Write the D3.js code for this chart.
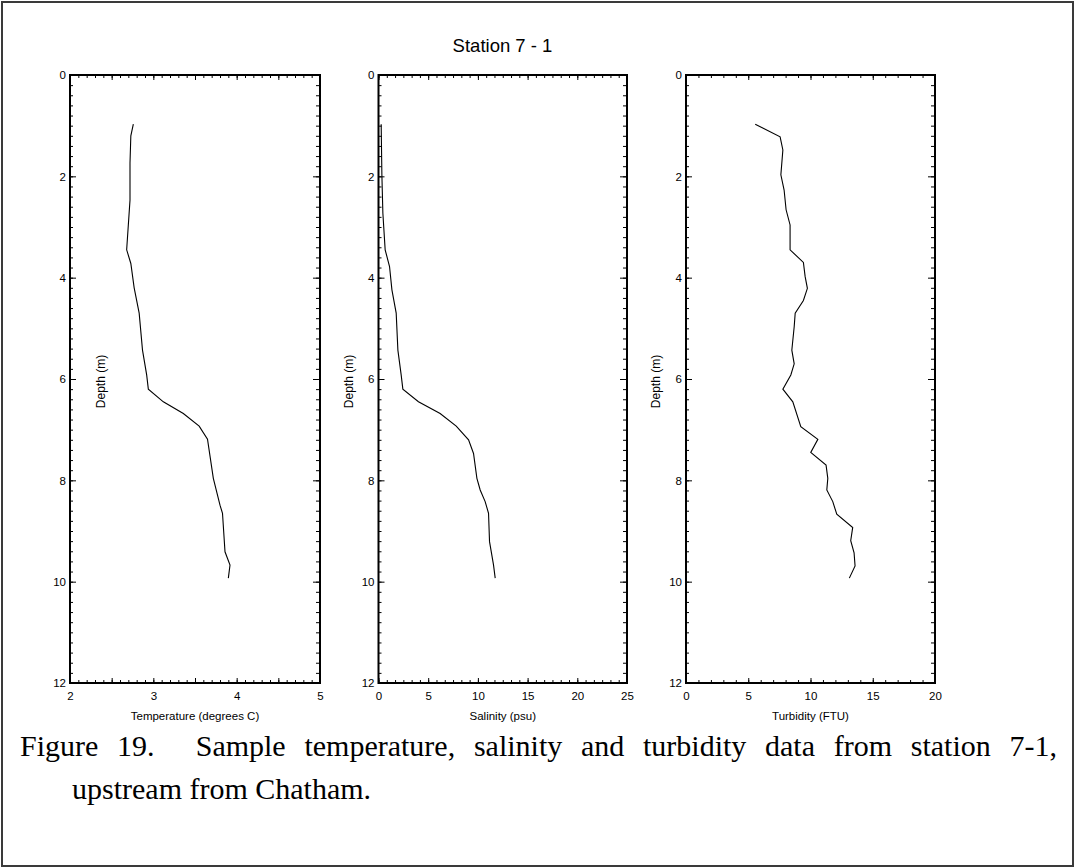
<!DOCTYPE html>
<html>
<head>
<meta charset="utf-8">
<script src="https://cdn.jsdelivr.net/npm/d3@7"></script>
<style>
  html, body { margin: 0; padding: 0; background: #fff; }
  svg { display: block; }
</style>
</head>
<body>
<svg id="chart" width="1075" height="868"></svg>
<script>
// ---------------- data ----------------
const chartTitle = "Station 7 - 1";
const depthLabel = "Depth (m)";
const depthTicks = [0, 2, 4, 6, 8, 10, 12];

const tempDepth = [0.97, 1.2, 1.74, 2.47, 3.45, 3.72, 4.2, 4.7, 5.43, 5.92, 6.2, 6.45, 6.68, 6.93, 7.19, 7.96, 8.49, 8.65, 9.41, 9.67, 9.93];
const tempValues = [2.76, 2.73, 2.72, 2.72, 2.68, 2.73, 2.77, 2.83, 2.87, 2.92, 2.94, 3.12, 3.36, 3.55, 3.65, 3.72, 3.8, 3.83, 3.86, 3.92, 3.9];
const tempTicks = [2, 3, 4, 5];

const salDepth = [0.97, 1.97, 2.73, 3.45, 3.78, 4.24, 4.7, 5.43, 5.92, 6.2, 6.45, 6.68, 6.93, 7.2, 7.47, 7.96, 8.19, 8.42, 8.65, 9.21, 9.67, 9.93];
const salValues = [0.27, 0.34, 0.44, 0.67, 1.11, 1.35, 1.78, 1.95, 2.28, 2.45, 4.02, 6.2, 7.82, 9.06, 9.56, 9.9, 10.23, 10.73, 11.07, 11.17, 11.57, 11.74];
const salTicks = [0, 5, 10, 15, 20, 25];

const turbDepth = [0.97, 1.22, 1.48, 1.97, 2.27, 2.66, 2.96, 3.45, 3.7, 3.98, 4.21, 4.45, 4.7, 4.97, 5.43, 5.7, 5.92, 6.2, 6.45, 6.94, 7.19, 7.45, 7.7, 7.96, 8.19, 8.42, 8.67, 8.93, 9.19, 9.43, 9.69, 9.93];
const turbValues = [5.56, 7.56, 7.78, 7.62, 7.88, 8.04, 8.36, 8.36, 9.43, 9.57, 9.75, 9.43, 8.77, 8.69, 8.5, 8.69, 8.42, 7.78, 8.58, 9.22, 10.59, 10.02, 11.25, 11.39, 11.31, 11.79, 12.11, 13.39, 13.23, 13.5, 13.58, 13.12];
const turbTicks = [0, 5, 10, 15, 20];

const axisTitles = ["Temperature (degrees C)", "Salinity (psu)", "Turbidity (FTU)"];
const captionWords1 = ["Figure", "19.", "Sample", "temperature,", "salinity", "and", "turbidity", "data", "from", "station", "7-1,"];
const captionLine2 = "upstream from Chatham.";

// ---------------- layout ----------------
const svg = d3.select("#chart");
const sans = "'Liberation Sans', Arial, sans-serif";
const serif = "'Liberation Serif', 'Times New Roman', serif";
const yTop = 75, yBot = 683;

const panels = [
  { x0: 70,    x1: 320, domain: [2, 5],  minorN: 30, majorN: 6, ticks: tempTicks, depth: tempDepth, vals: tempValues, title: axisTitles[0], depthX: 105 },
  { x0: 378.5, x1: 627, domain: [0, 25], minorN: 30, majorN: 5, ticks: salTicks,  depth: salDepth,  vals: salValues,  title: axisTitles[1], depthX: 353 },
  { x0: 686,   x1: 935, domain: [0, 20], minorN: 20, majorN: 4, ticks: turbTicks, depth: turbDepth, vals: turbValues, title: axisTitles[2], depthX: 660 }
];

// outer frame
svg.append("rect")
  .attr("x", 2).attr("y", 2).attr("width", 1071).attr("height", 864)
  .attr("fill", "none").attr("stroke", "#3a3a3a").attr("stroke-width", 2);

// title
svg.append("text")
  .attr("x", (panels[0].x0 + panels[2].x1) / 2).attr("y", 52)
  .attr("text-anchor", "middle")
  .attr("font-family", sans).attr("font-size", 18.5)
  .text(chartTitle);

const y = d3.scaleLinear().domain([0, 12]).range([yTop, yBot]);
const depthMinor = d3.range(61).map(i => i * 0.2);

function strip(g) { g.select(".domain").remove(); g.selectAll("line").attr("stroke", "#000"); }

panels.forEach(p => {
  const x = d3.scaleLinear().domain(p.domain).range([p.x0, p.x1]);
  const span = p.domain[1] - p.domain[0];
  const minorVals = d3.range(p.minorN + 1).map(i => p.domain[0] + i * span / p.minorN);
  const majorVals = d3.range(p.majorN + 1).map(i => p.domain[0] + i * span / p.majorN);
  const g = svg.append("g");

  // bottom axis ticks (inward)
  g.append("g").attr("transform", `translate(0,${yBot})`)
    .call(d3.axisBottom(x).tickValues(minorVals).tickSize(-3).tickFormat("")).call(strip);
  g.append("g").attr("transform", `translate(0,${yBot})`)
    .call(d3.axisBottom(x).tickValues(majorVals).tickSize(-5).tickFormat("")).call(strip);
  g.append("g").attr("transform", `translate(0,${yBot})`)
    .call(d3.axisBottom(x).tickValues(p.ticks).tickSize(0).tickPadding(8.5).tickFormat(d3.format("d")))
    .call(strip)
    .call(a => a.selectAll("text").attr("font-family", sans).attr("font-size", 11.5).attr("fill", "#000"));

  // top axis ticks (inward)
  g.append("g").attr("transform", `translate(0,${yTop})`)
    .call(d3.axisTop(x).tickValues(minorVals).tickSize(-3).tickFormat("")).call(strip);
  g.append("g").attr("transform", `translate(0,${yTop})`)
    .call(d3.axisTop(x).tickValues(majorVals).tickSize(-5).tickFormat("")).call(strip);

  // left axis
  g.append("g").attr("transform", `translate(${p.x0},0)`)
    .call(d3.axisLeft(y).tickValues(depthMinor).tickSize(-3).tickFormat("")).call(strip);
  g.append("g").attr("transform", `translate(${p.x0},0)`)
    .call(d3.axisLeft(y).tickValues(depthTicks).tickSize(-6).tickFormat("")).call(strip);
  g.append("g").attr("transform", `translate(${p.x0},0)`)
    .call(d3.axisLeft(y).tickValues(depthTicks).tickSize(0).tickPadding(4).tickFormat(d3.format("d")))
    .call(strip)
    .call(a => a.selectAll("text").attr("font-family", sans).attr("font-size", 11.5).attr("fill", "#000"));

  // right axis
  g.append("g").attr("transform", `translate(${p.x1},0)`)
    .call(d3.axisRight(y).tickValues(depthMinor).tickSize(-4).tickFormat("")).call(strip);
  g.append("g").attr("transform", `translate(${p.x1},0)`)
    .call(d3.axisRight(y).tickValues(depthTicks).tickSize(-7).tickFormat("")).call(strip);

  // frame
  g.append("rect")
    .attr("x", p.x0).attr("y", yTop).attr("width", p.x1 - p.x0).attr("height", yBot - yTop)
    .attr("fill", "none").attr("stroke", "#000").attr("stroke-width", 2);

  // profile line
  const pts = p.depth.map((d, i) => ({ d, v: p.vals[i] }));
  g.append("path").datum(pts)
    .attr("fill", "none").attr("stroke", "#000").attr("stroke-width", 1.1)
    .attr("d", d3.line().x(d => x(d.v)).y(d => y(d.d)));

  // axis title
  g.append("text")
    .attr("x", (p.x0 + p.x1) / 2).attr("y", 720)
    .attr("text-anchor", "middle")
    .attr("font-family", sans).attr("font-size", 11.5)
    .text(p.title);

  // depth label
  g.append("text")
    .attr("transform", `translate(${p.depthX},381.5) rotate(-90)`)
    .attr("text-anchor", "middle")
    .attr("font-family", sans).attr("font-size", 12)
    .text(depthLabel);
});

// caption line 1: justified between x=20 and x=1057, larger gap after "19."
const capSize = 30;
const capG = svg.append("g").attr("font-family", serif).attr("font-size", capSize);
const wordNodes = captionWords1.map(w => capG.append("text").attr("y", 756).text(w));
const widths = wordNodes.map(t => t.node().getComputedTextLength());
const totalW = d3.sum(widths);
const gapWeights = captionWords1.slice(1).map((w, i) => (i === 1 ? 2.2 : 1));
const gapUnit = (1057 - 20 - totalW) / d3.sum(gapWeights);
let cx = 20;
wordNodes.forEach((t, i) => {
  t.attr("x", cx);
  cx += widths[i] + (i < gapWeights.length ? gapWeights[i] * gapUnit : 0);
});

capG.append("text")
  .attr("x", 72).attr("y", 799)
  .text(captionLine2);
</script>
</body>
</html>
